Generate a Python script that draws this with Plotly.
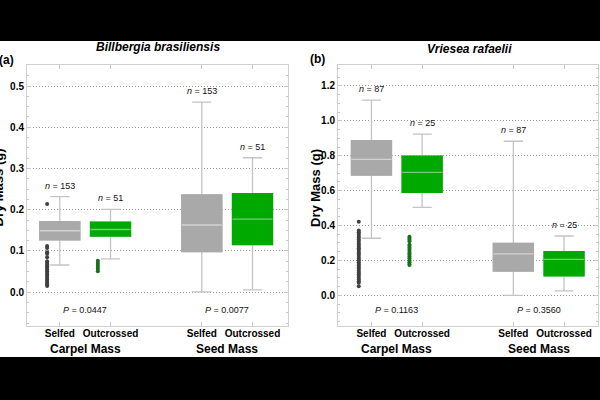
import plotly.graph_objects as go

# ---------------- data ----------------
treatments = ["Selfed", "Outcrossed"]
traits = ["Carpel Mass", "Seed Mass"]
species = ["Billbergia brasiliensis", "Vriesea rafaelii"]
panel_tags = ["(a)", "(b)"]
y_title = "Dry Mass (g)"

# Panel (a) Billbergia brasiliensis  -> [Carpel, Seed]
a_self_lo = [0.066, 0.001]
a_self_q1 = [0.127, 0.0985]
a_self_med = [0.149, 0.163]
a_self_q3 = [0.171, 0.236]
a_self_hi = [0.232, 0.461]
a_out_lo = [0.081, 0.0056]
a_out_q1 = [0.136, 0.1156]
a_out_med = [0.152, 0.177]
a_out_q3 = [0.170, 0.239]
a_out_hi = [0.201, 0.326]
a_self_n = [153, 153]
a_out_n = [51, 51]
a_p = ["0.0447", "0.0077"]
a_self_outliers = [0.214, 0.112, 0.107, 0.097, 0.093, 0.085, 0.075, 0.071, 0.067,
                   0.063, 0.059, 0.055, 0.051, 0.047, 0.043, 0.039, 0.035, 0.031,
                   0.027, 0.023, 0.019, 0.015]
a_out_outliers = [0.076, 0.071, 0.066, 0.061, 0.056, 0.051]

# Panel (b) Vriesea rafaelii -> [Carpel, Seed]
b_self_lo = [0.327, 0.0]
b_self_q1 = [0.689, 0.139]
b_self_med = [0.779, 0.237]
b_self_q3 = [0.886, 0.298]
b_self_hi = [1.119, 0.883]
b_out_lo = [0.504, 0.025]
b_out_q1 = [0.590, 0.111]
b_out_med = [0.705, 0.206]
b_out_q3 = [0.798, 0.250]
b_out_hi = [0.924, 0.340]
b_self_n = [87, 87]
b_out_n = [25, 25]
b_p = ["0.1163", "0.3560"]
b_self_outliers = [0.422, 0.372, 0.361, 0.352, 0.340, 0.331, 0.320, 0.311, 0.300,
                   0.291, 0.280, 0.270, 0.261, 0.250, 0.240, 0.231, 0.220, 0.210,
                   0.201, 0.190, 0.180, 0.171, 0.160, 0.150, 0.141, 0.130, 0.120,
                   0.110, 0.101, 0.090, 0.081, 0.072, 0.052]
b_out_outliers = [0.336, 0.328, 0.318, 0.310, 0.290, 0.282, 0.272, 0.262, 0.250,
                  0.240, 0.232, 0.222, 0.212, 0.200, 0.190, 0.180, 0.174]

# ---------------- style / layout ----------------
FONT = "Liberation Sans, Arial, sans-serif"
GRAY = "#a9a9a9"
GREEN = "#00a900"
GRAY_MED = "#d2d2d2"
GREEN_MED = "#70cf70"
WHISKER = "#c4c4c4"
GRAY_PT = "#404040"
GREEN_PT = "#17701a"
SELF_X = [1.0, 3.8]
OUT_X = [2.0, 4.8]
PAIR_X = [1.5, 4.3]
BOX_W = 0.79
PT_OFFSET = 0.25
W, H = 600, 400

fig = go.Figure()


def add_boxes(xa, ya, x, q1, med, q3, lo, hi, fill, medc):
    common = dict(x=x, width=BOX_W, xaxis=xa, yaxis=ya, showlegend=False,
                  hoverinfo="skip", boxpoints=False)
    fig.add_trace(go.Box(q1=q1, median=med, q3=q3, lowerfence=lo, upperfence=hi,
                         fillcolor=fill, line=dict(color=WHISKER, width=1.3),
                         whiskerwidth=0.48, **common))
    fig.add_trace(go.Box(q1=q1, median=med, q3=q3, lowerfence=q1, upperfence=q3,
                         fillcolor=fill, line=dict(color=fill, width=1.3),
                         whiskerwidth=0, **common))
    fig.add_trace(go.Box(q1=med, median=med, q3=med, lowerfence=med, upperfence=med,
                         fillcolor="rgba(0,0,0,0)", line=dict(color=medc, width=1.3),
                         whiskerwidth=0, **common))


def add_outliers(xa, ya, xpos, vals, color):
    fig.add_trace(go.Scatter(x=[xpos - PT_OFFSET] * len(vals), y=vals, mode="markers",
                             marker=dict(size=4, color=color), xaxis=xa, yaxis=ya,
                             showlegend=False, hoverinfo="skip"))


def txt(**kw):
    base = dict(showarrow=False, xanchor="center", yanchor="middle")
    base.update(kw)
    return base


panels = [
    dict(xa="x", ya="y",
         self_stats=(a_self_q1, a_self_med, a_self_q3, a_self_lo, a_self_hi),
         out_stats=(a_out_q1, a_out_med, a_out_q3, a_out_lo, a_out_hi),
         self_n=a_self_n, out_n=a_out_n, p=a_p,
         self_out=a_self_outliers, out_out=a_out_outliers, p_y=-0.043),
    dict(xa="x2", ya="y2",
         self_stats=(b_self_q1, b_self_med, b_self_q3, b_self_lo, b_self_hi),
         out_stats=(b_out_q1, b_out_med, b_out_q3, b_out_lo, b_out_hi),
         self_n=b_self_n, out_n=b_out_n, p=b_p,
         self_out=b_self_outliers, out_out=b_out_outliers, p_y=-0.084),
]

annotations = []
for pnl in panels:
    add_boxes(pnl["xa"], pnl["ya"], SELF_X, *pnl["self_stats"], GRAY, GRAY_MED)
    add_boxes(pnl["xa"], pnl["ya"], OUT_X, *pnl["out_stats"], GREEN, GREEN_MED)
    add_outliers(pnl["xa"], pnl["ya"], SELF_X[0], pnl["self_out"], GRAY_PT)
    add_outliers(pnl["xa"], pnl["ya"], OUT_X[0], pnl["out_out"], GREEN_PT)
    for xs, his, ns in ((SELF_X, pnl["self_stats"][4], pnl["self_n"]),
                        (OUT_X, pnl["out_stats"][4], pnl["out_n"])):
        for xv, hv, nv in zip(xs, his, ns):
            annotations.append(txt(x=xv, y=hv, xref=pnl["xa"], yref=pnl["ya"],
                                   text=f"<i>n</i> = {nv}",
                                   yshift=11, font=dict(family=FONT, size=9, color="#111")))
    for xv, pv in zip(PAIR_X, pnl["p"]):
        annotations.append(txt(x=xv, y=pnl["p_y"], xref=pnl["xa"], yref=pnl["ya"],
                               text=f"<i>P</i> = {pv}",
                               font=dict(family=FONT, size=9, color="#111")))
    for xv, tr in zip(PAIR_X, traits):
        annotations.append(txt(x=xv, y=1 - 349 / H, xref=pnl["xa"], yref="paper",
                               text=f"<b>{tr}</b>",
                               font=dict(family=FONT, size=12, color="#000")))

# titles, tags, y-titles
annotations += [
    txt(x=157.5 / W, y=1 - 47 / H, xref="paper", yref="paper",
        text=f"<b><i>{species[0]}</i></b>", font=dict(family=FONT, size=12, color="#000")),
    txt(x=469 / W, y=1 - 49 / H, xref="paper", yref="paper",
        text=f"<b><i>{species[1]}</i></b>", font=dict(family=FONT, size=12, color="#000")),
    txt(x=6.5 / W, y=1 - 60 / H, xref="paper", yref="paper",
        text=f"<b>{panel_tags[0]}</b>", font=dict(family=FONT, size=12, color="#000")),
    txt(x=317.5 / W, y=1 - 59 / H, xref="paper", yref="paper",
        text=f"<b>{panel_tags[1]}</b>", font=dict(family=FONT, size=12, color="#000")),
    txt(x=-2.5 / W, y=1 - 188 / H, xref="paper", yref="paper",
        textangle=-90, text=f"<b>{y_title}</b>",
        font=dict(family=FONT, size=13, color="#000")),
    txt(x=315 / W, y=1 - 188 / H, xref="paper", yref="paper",
        textangle=-90, text=f"<b>{y_title}</b>",
        font=dict(family=FONT, size=13, color="#000")),
]

xcommon = dict(tickvals=SELF_X + OUT_X,
               ticktext=[treatments[0], treatments[0], treatments[1], treatments[1]],
               tickfont=dict(family=FONT, size=10, color="#000", weight="bold"),
               ticks="inside", ticklen=4, tickcolor="#c8c8c8", showgrid=False,
               showline=True, linecolor="#d0d0d0", linewidth=1, mirror="ticks",
               zeroline=False, ticklabelstandoff=-2)
ycommon = dict(tickformat=".1f", tickfont=dict(family=FONT, size=10, color="#000", weight="bold"),
               ticks="inside", ticklen=4, tickcolor="#c8c8c8",
               showgrid=True, gridcolor="#9a9a9a", griddash="1px,2px", gridwidth=1,
               showline=True, linecolor="#d0d0d0", linewidth=1, mirror="ticks",
               zeroline=False)

fig.update_layout(
    width=W, height=H, margin=dict(l=0, r=0, t=0, b=0),
    paper_bgcolor="white", plot_bgcolor="white", boxmode="overlay",
    xaxis=dict(domain=[27 / W, 288 / W], range=[0.353, 5.5], anchor="y", **xcommon),
    yaxis=dict(domain=[1 - 326 / H, 1 - 65 / H], range=[-0.082, 0.551], dtick=0.1,
               anchor="x",
               minor=dict(dtick=0.025, ticks="inside", ticklen=2, tickcolor="#c8c8c8", showgrid=False),
               **ycommon),
    xaxis2=dict(domain=[338 / W, 598 / W], range=[0.34, 5.47], anchor="y2", **xcommon),
    yaxis2=dict(domain=[1 - 326 / H, 1 - 65 / H], range=[-0.176, 1.32], dtick=0.2,
                anchor="x2",
                minor=dict(dtick=0.05, ticks="inside", ticklen=2, tickcolor="#c8c8c8", showgrid=False),
                **ycommon),
    annotations=annotations,
    shapes=[
        dict(type="rect", xref="paper", yref="paper", x0=-0.01, x1=1.01,
             y0=1 - 41 / H, y1=1.01, fillcolor="black", line=dict(width=0), layer="above"),
        dict(type="rect", xref="paper", yref="paper", x0=-0.01, x1=1.01,
             y0=-0.01, y1=1 - 357 / H, fillcolor="black", line=dict(width=0), layer="above"),
    ],
)

fig.write_html("out.html")
